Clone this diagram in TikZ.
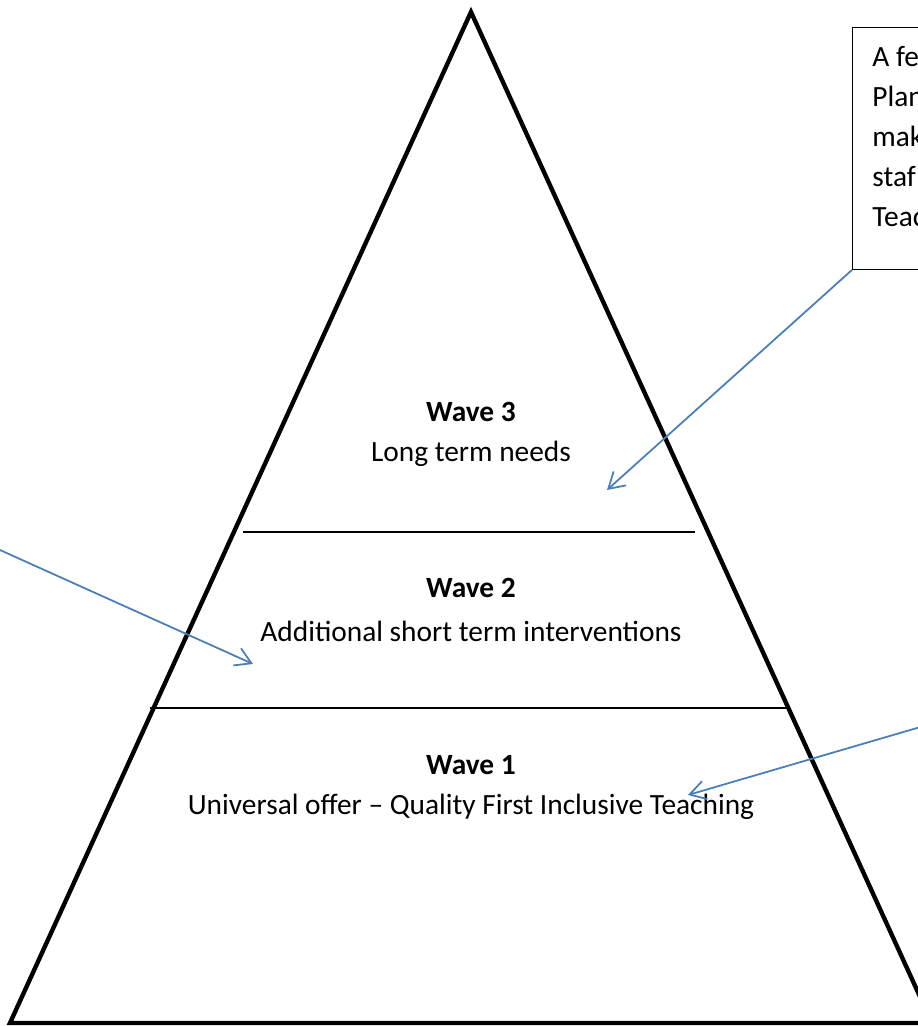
\documentclass[tikz,border=0pt]{standalone}
\usepackage{fontspec}
\setmainfont{Carlito}
\usetikzlibrary{arrows.meta}
\definecolor{pointer}{RGB}{74,126,187}
\tikzset{
  wavetitle/.style={anchor=base,font=\fontsize{14.1}{17}\selectfont\bfseries,inner sep=0pt},
  wavetext/.style={anchor=base,font=\fontsize{14.1}{17}\selectfont,inner sep=0pt},
  notebox/.style={draw,line width=0.6pt,anchor=north west,minimum width=120pt,minimum height=116pt,inner sep=0pt},
  noteline/.style={anchor=base west,font=\fontsize{14.1}{17}\selectfont,inner sep=0pt},
  pointerarrow/.style={pointer,line width=0.85pt,-{Straight Barb[length=7.5pt,width=9pt]}},
}
\begin{document}
\begin{tikzpicture}[x=0.48pt,y=-0.48pt]
		\useasboundingbox (0,0) rectangle (918,1026);
		\clip (0,0) rectangle (918,1026);

		% Pyramid outline
		\draw[line width=2.1pt,line join=miter] (471,12) -- (10,1023) -- (932,1023) -- cycle;

		% Dividing lines between the waves
		\draw[line width=0.7pt] (243,532) -- (695,532);
		\draw[line width=0.7pt] (150,708) -- (790,708);

		% Wave labels
		\node[wavetitle] (w3) at (471,421) {Wave 3};
		\node[wavetext] (w3txt) at (471,461) {Long term needs};
		\node[wavetitle] (w2) at (471,597) {Wave 2};
		\node[wavetext] (w2txt) at (471,641) {Additional short term interventions};
		\node[wavetitle] (w1) at (471,774) {Wave 1};
		\node[wavetext] (w1txt) at (471,814) {Universal offer -- Quality First Inclusive Teaching};

		% Note box (cut at the right edge)
		\node[notebox] (box) at (852,27) {};
		\foreach \txt [count=\i] in {A fe,Plan,mak,staf,Teac}
			\node[noteline] (boxline\i) at (872,26+40*\i) {\txt};

		% Pointer targets and loose ends
		\coordinate (tip3) at (607,490);
		\coordinate (tip2) at (253,664);
		\coordinate (tip1) at (688,795);
		\coordinate (lsrc) at (-40,532);
		\coordinate (rsrc) at (958,716);

		% Pointers
		\draw[pointerarrow] (box.south west) -- (tip3);
		\draw[pointerarrow] (lsrc) -- (tip2);
		\draw[pointerarrow] (rsrc) -- (tip1);
	\end{tikzpicture}
\end{document}
